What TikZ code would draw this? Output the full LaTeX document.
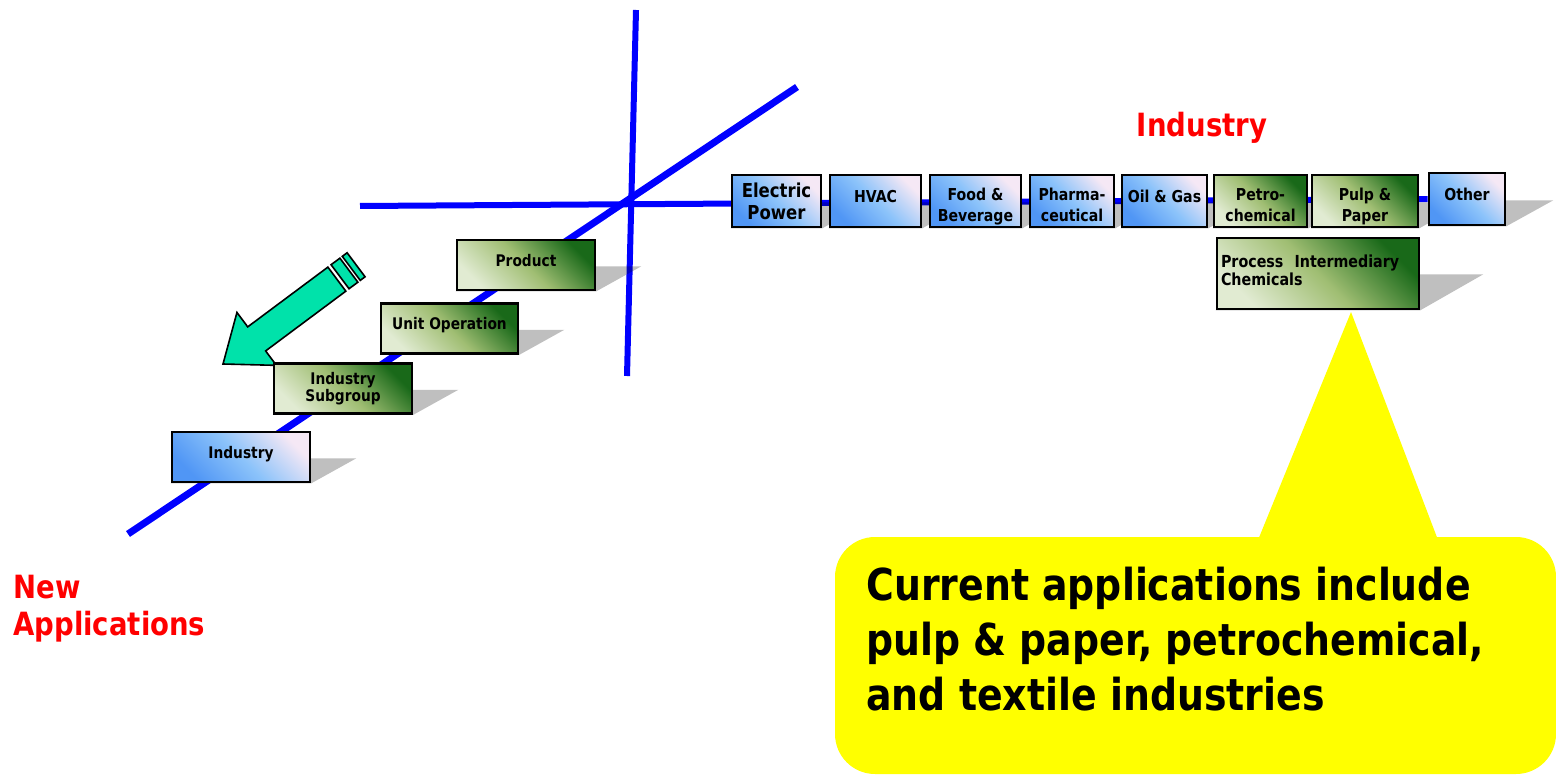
\documentclass[tikz,border=0pt]{standalone}
\usepackage{fontspec}
\setmainfont{DejaVu Sans}
\newfontfamily\tahoma[FakeStretch=0.86]{DejaVu Sans}
\usepackage{tikz}
\usetikzlibrary{backgrounds}

\definecolor{axisblue}{RGB}{0,0,255}
\definecolor{bluelo}{RGB}{80,150,245}
\definecolor{bluemid}{RGB}{140,195,250}
\definecolor{bluehi}{RGB}{245,232,245}
\definecolor{greenlo}{RGB}{225,235,210}
\definecolor{greenmid}{RGB}{160,190,115}
\definecolor{greenhi}{RGB}{25,105,25}
\definecolor{arrowmint}{RGB}{0,226,170}
\definecolor{calloutyellow}{RGB}{255,255,0}

\newcommand{\boxshadow}[3]{%
  \fill[shadowfill] (#1.south west) -- (#1.south east)
    -- ([shift={(#2,-#3)}]#1.south east) -- ([shift={(#2,-#3)}]#1.south west) -- cycle;}

\begin{document}
\begin{tikzpicture}[x=0.5pt, y=-0.5pt,
    catbox/.style={draw=black, line width=1.3pt, inner sep=1pt, align=center,
      font=\tahoma\bfseries\fontsize{8.2}{10}\selectfont},
    bluebox/.style={catbox, bottom color=bluelo, top color=bluehi, middle color=bluemid, shading angle=-45},
    greenbox/.style={catbox, bottom color=greenlo, top color=greenhi, middle color=greenmid, shading angle=-45},
    rowbox/.style={minimum width=#1, minimum height=26pt},
    stepbox/.style={minimum width=#1, minimum height=25pt, font=\tahoma\bfseries\fontsize{8}{7.5}\selectfont},
    oneline/.style={text depth=5pt},
    twoline/.style={text height=20pt, text depth=0pt},
    axis/.style={draw=axisblue, line width=3pt},
    redlabel/.style={text=red, inner sep=0pt, align=left, font=\tahoma\bfseries\fontsize{16}{18.5}\selectfont},
    shadowfill/.style={fill=black, opacity=0.25}]
    \useasboundingbox (0,0) rectangle (1556,775);

    % Axes ends
    \coordinate (vtop) at (636,10);
    \coordinate (vbot) at (627,376);
    \coordinate (dlo) at (128,534);
    \coordinate (dhi) at (797,87);
    \coordinate (hleft) at (360,206);

    % Callout
    \fill[calloutyellow, rounded corners=20pt] (835,537) rectangle (1556,774);
    \fill[calloutyellow] (1258,540) -- (1351,312) -- (1438,540) -- cycle;
    \node[anchor=north west, inner sep=0pt, align=left,
      font=\tahoma\bfseries\fontsize{22}{27.5}\selectfont] (note) at (866,567)
      {Current applications include\\pulp \& paper, petrochemical,\\and textile industries};

    % Drill-down arrow
    \begin{scope}[shift={(223,364)}, rotate=36.7, draw=black, fill=arrowmint, line width=0.8pt]
        \filldraw (0,0) -- (42,-33) -- (42,-15) -- (142,-15) -- (142,15) -- (42,15) -- (42,33) -- cycle;
        \filldraw (146,-15) -- (157,-15) -- (157,15) -- (146,15) -- cycle;
        \filldraw (160,-15) -- (166,-15) -- (166,15) -- (160,15) -- cycle;
    \end{scope}

    % Horizontal categories
    \node[bluebox, rowbox=44.5pt, text height=19pt, text depth=0pt,
      font=\tahoma\bfseries\fontsize{9.6}{11}\selectfont] (elec) at (776.5,201) {Electric\\Power};
    \node[bluebox, rowbox=45.5pt, oneline] (hvac) at (875.5,201) {HVAC};
    \node[bluebox, rowbox=45.5pt, twoline] (food) at (975.5,201) {Food \&\\Beverage};
    \node[bluebox, rowbox=42pt, twoline] (pharma) at (1072,201) {Pharma-\\ceutical};
    \node[bluebox, rowbox=42.5pt, oneline] (oil) at (1164.5,201) {Oil \& Gas};
    \node[greenbox, rowbox=46.5pt, twoline] (petro) at (1260.5,201) {Petro-\\chemical};
    \node[greenbox, rowbox=53pt, twoline] (pulp) at (1365,201) {Pulp \&\\Paper};
    \node[bluebox, rowbox=38pt, oneline] (other) at (1467,199) {Other};
    \node[greenbox, minimum width=101pt, minimum height=35.5pt, text width=97pt, align=left,
      text depth=12.5pt, font=\tahoma\bfseries\fontsize{8.3}{9}\selectfont] (pic) at (1318,273.5)
      {Process~ Intermediary\\Chemicals};

    % Diagonal steps
    \node[bluebox, stepbox=69pt, oneline] (ind) at (241,457) {Industry};
    \node[greenbox, stepbox=69pt] (subgroup) at (343,388.5) {Industry\\Subgroup};
    \node[greenbox, stepbox=68.5pt, oneline] (unitop) at (449.5,328.5) {Unit Operation};
    \node[greenbox, stepbox=69pt, oneline] (product) at (526,265) {Product};

    % Labels
    \node[redlabel, anchor=base] (indlabel) at (1202,137) {Industry};
    \node[redlabel, anchor=north west] (newapps) at (13,575) {New\\Applications};

    % Lines and shadows behind the boxes
    \begin{scope}[on background layer]
        \draw[axis, line width=3.5pt] (dlo) -- (dhi);
        \draw[axis] (vtop) -- (vbot);
        \draw[axis] (hleft) -- (other.west);
        \foreach \n/\dx/\dy in {elec/47/26, hvac/47/26, food/47/26, pharma/47/26, oil/47/26,
            petro/47/26, pulp/47/26, other/47/26, pic/63/36,
            ind/45/25, subgroup/45/25, unitop/45/25, product/45/25}
            {\boxshadow{\n}{\dx}{\dy}}
    \end{scope}
\end{tikzpicture}
\end{document}
